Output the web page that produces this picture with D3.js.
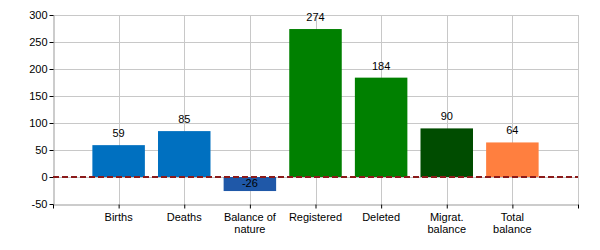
<!DOCTYPE html>
<meta charset="utf-8">
<style>
body { margin: 0; background: #fff; }
text { font-family: "Liberation Sans", Arial, sans-serif; font-size: 11px; fill: #000; }
.grid line { stroke: #c8c8c8; shape-rendering: crispEdges; }
</style>
<div id="chart"></div>
<script src="https://d3js.org/d3.v7.min.js"></script>
<script>
var categories = [["Births"], ["Deaths"], ["Balance of", "nature"], ["Registered"], ["Deleted"], ["Migrat.", "balance"], ["Total", "balance"]];
var values = [59, 85, -26, 274, 184, 90, 64];
var colors = ["#0070c0", "#0070c0", "#1f58a8", "#008000", "#008000", "#004c00", "#ff7f3f"];
var yTicks = [-50, 0, 50, 100, 150, 200, 250, 300];

var w = 600, h = 250,
    plotL = 53, plotR = 578, plotT = 15, plotB = 204;

var svg = d3.select("#chart").append("svg")
  .attr("width", w)
  .attr("height", h);

// categories sit on 1..7, the edges 0 and 8 are ticks too
var x = d3.scaleLinear().domain([0, categories.length + 1]).range([plotL, plotR]),
    y = d3.scaleLinear().domain([-50, 300]).range([plotB, plotT]);
var step = x(1) - x(0), barW = step * 0.8;

// horizontal grid
svg.append("g").attr("class", "grid")
  .selectAll("line").data(yTicks.filter(function (d) { return d > -50; }))
  .enter().append("line")
  .attr("x1", plotL).attr("x2", plotR)
  .attr("y1", function (d) { return Math.round(y(d)) + 0.5; })
  .attr("y2", function (d) { return Math.round(y(d)) + 0.5; });

// vertical grid
svg.append("g").attr("class", "grid")
  .selectAll("line").data(d3.range(1, categories.length + 2))
  .enter().append("line")
  .attr("x1", function (d) { return Math.round(x(d)) + 0.5; })
  .attr("x2", function (d) { return Math.round(x(d)) + 0.5; })
  .attr("y1", plotT).attr("y2", plotB);

// bars
svg.selectAll("rect.bar").data(values).enter().append("rect")
  .attr("class", "bar")
  .attr("x", function (d, i) { return x(i + 1) - barW / 2; })
  .attr("width", barW)
  .attr("y", function (d) { return y(Math.max(0, d)); })
  .attr("height", function (d) { return Math.abs(y(d) - y(0)); })
  .attr("fill", function (d, i) { return colors[i]; });

// axes (plain hyphen for negatives, like the original)
var yAxis = d3.axisLeft(y).tickValues(yTicks).tickSize(4).tickSizeOuter(0)
  .tickFormat(function (d) { return String(d); });
var gy = svg.append("g").attr("transform", "translate(" + (plotL + 0.5) + ",0)").call(yAxis);
gy.select(".domain").attr("stroke", "#999");
gy.selectAll(".tick line").attr("stroke", "#000");
gy.selectAll(".tick text").attr("font-size", 11).attr("font-family", null).attr("x", -6);

var xAxis = d3.axisBottom(x).tickValues(d3.range(0, categories.length + 2)).tickSize(4).tickSizeOuter(0).tickFormat("");
var gx = svg.append("g").attr("transform", "translate(0," + (Math.round(plotB) + 0.5) + ")").call(xAxis);
gx.select(".domain").attr("stroke", "#999");
gx.selectAll(".tick line").attr("stroke", "#000");

// category labels
svg.selectAll("text.cat").data(categories).enter().append("text")
  .attr("class", "cat")
  .attr("text-anchor", "middle")
  .attr("x", function (d, i) { return x(i + 1); })
  .attr("y", 221)
  .each(function (d) {
    var t = d3.select(this);
    d.forEach(function (line, k) {
      t.append("tspan").attr("x", t.attr("x")).attr("dy", k ? 12 : 0).text(line);
    });
  });

// zero line
svg.append("line")
  .attr("x1", plotL).attr("x2", plotR)
  .attr("y1", y(0)).attr("y2", y(0))
  .attr("stroke", "#8b1a1a").attr("stroke-width", 2)
  .attr("stroke-dasharray", "6,3");

// value labels
svg.selectAll("text.val").data(values).enter().append("text")
  .attr("class", "val")
  .attr("text-anchor", "middle")
  .attr("x", function (d, i) { return x(i + 1); })
  .attr("y", function (d) { return d >= 0 ? y(d) - 8 : y(0) + 10; })
  .text(function (d) { return d; });
</script>
